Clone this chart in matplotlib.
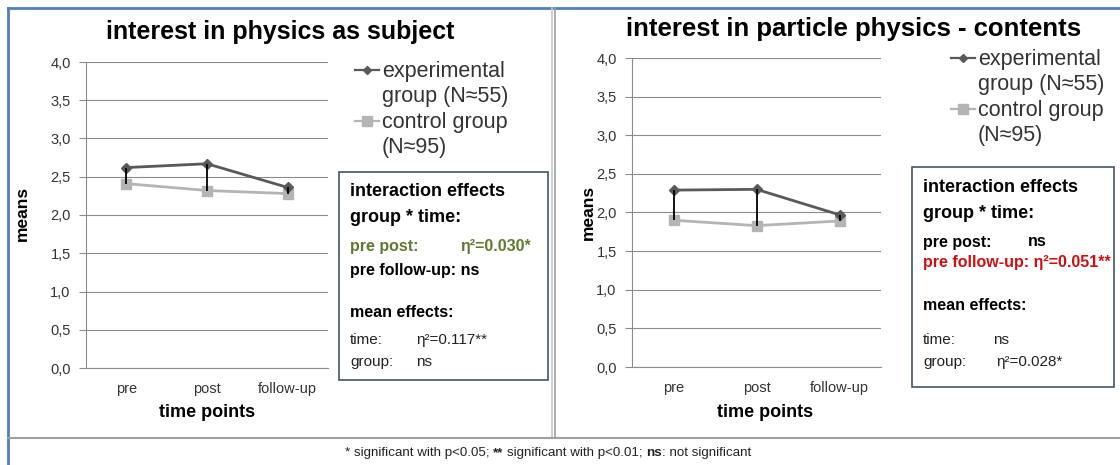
import numpy as np
import matplotlib
matplotlib.use("Agg")
import matplotlib.pyplot as plt
from matplotlib.lines import Line2D
from matplotlib.patches import Rectangle

plt.rcParams['font.family'] = ['Liberation Sans', 'DejaVu Sans']

# data
time_points = ['pre', 'post', 'follow-up']
y_ticks = [0.0, 0.5, 1.0, 1.5, 2.0, 2.5, 3.0, 3.5, 4.0]
y_tick_labels = [f"{v:.1f}".replace('.', ',') for v in y_ticks]

subject_exp = [2.62, 2.67, 2.36]
subject_ctrl = [2.41, 2.32, 2.28]
particle_exp = [2.29, 2.30, 1.97]
particle_ctrl = [1.90, 1.83, 1.89]

titles = ['interest in physics as subject', 'interest in particle physics - contents']
legend_labels = ['experimental\ngroup (N≈55)', 'control group\n(N≈95)']
# (text, bold?)
footnote_parts = [("* significant with p<0.05; ", False), ("**", True),
                  (" significant with p<0.01; ", False), ("ns", True),
                  (": not significant", False)]

W, H = 1120, 465
EXP_C = '#595959'
CTRL_C = '#b4b4b4'
GRID_C = '#8c8c8c'
BOX_C = '#44546a'
TXT_C = '#333333'


def fx(px):
    return px / W


def fy(py):
    return 1 - py / H


fig = plt.figure(figsize=(W / 100, H / 100), dpi=100)


def panel(rect, exp, ctrl):
    ax = fig.add_axes(rect)
    x = np.arange(len(time_points))
    ax.plot(x, exp, color=EXP_C, lw=2, marker='D', ms=5, zorder=3)
    ax.plot(x, ctrl, color=CTRL_C, lw=2, marker='s', ms=7, zorder=2)
    ax.vlines(x, ctrl, exp, color='black', lw=1.3, zorder=4)
    ax.set_xlim(-0.5, len(time_points) - 0.5)
    ax.set_ylim(0, 4)
    ax.set_yticks(y_ticks)
    ax.set_yticklabels(y_tick_labels, fontsize=10.5, color=TXT_C)
    ax.set_xticks(x)
    ax.set_xticklabels(time_points, fontsize=10.5, color=TXT_C)
    ax.tick_params(axis='y', length=5, color=GRID_C, pad=6)
    ax.tick_params(axis='x', length=0, pad=10)
    ax.grid(axis='y', color=GRID_C, lw=0.8)
    ax.set_axisbelow(True)
    for s in ['top', 'right']:
        ax.spines[s].set_visible(False)
    for s in ['left', 'bottom']:
        ax.spines[s].set_color(GRID_C)
        ax.spines[s].set_linewidth(0.8)
    return ax


ax1 = panel([fx(86), fy(368), fx(328) - fx(86), fy(62) - fy(368)], subject_exp, subject_ctrl)
ax2 = panel([fx(632), fy(367), fx(881) - fx(632), fy(58) - fy(367)], particle_exp, particle_ctrl)

# titles and axis labels
fig.text(fx(280), fy(32), titles[0], ha='center', va='center', fontsize=18, fontweight='bold')
fig.text(fx(854), fy(29), titles[1], ha='center', va='center', fontsize=18.5, fontweight='bold')
for xl, yl, xt in [(22, 213, 207), (588, 212, 765)]:
    fig.text(fx(xl), fy(yl), 'means', rotation=90, ha='center', va='center',
             fontsize=12.5, fontweight='bold')
    fig.text(fx(xt), fy(412), 'time points', ha='center', va='center',
             fontsize=13, fontweight='bold')


# legends
def legend(x0, y0):
    for i, (lab, c, m, ms) in enumerate(zip(legend_labels, [EXP_C, CTRL_C], ['D', 's'], [4.5, 7])):
        yy = y0 + i * 51
        fig.add_artist(Line2D([fx(x0), fx(x0 + 12), fx(x0 + 24)], [fy(yy)] * 3, color=c, lw=1.6,
                              marker=m, ms=ms, markevery=[1], transform=fig.transFigure))
        fig.text(fx(x0 + 27), fy(yy - 9), lab, ha='left', va='top', fontsize=15.5,
                 color=TXT_C, linespacing=1.27)


legend(355, 70)
legend(951, 58)

# effect boxes
fig.add_artist(Rectangle((fx(339), fy(380)), fx(548) - fx(339), fy(172) - fy(380),
                         transform=fig.transFigure, fill=False, ec=BOX_C, lw=1.2))
fig.add_artist(Rectangle((fx(912), fy(387)), fx(1114) - fx(912), fy(167) - fy(387),
                         transform=fig.transFigure, fill=False, ec=BOX_C, lw=1.2))

GREEN = '#5f7a30'
RED = '#cc1010'
box_lines = [
    # left box
    (350, 192, 'interaction effects', 'black', 'bold', 13),
    (350, 217, 'group * time:', 'black', 'bold', 13),
    (350, 246, 'pre post:', GREEN, 'bold', 11.5),
    (460, 246, 'η²=0.030*', GREEN, 'bold', 11.5),
    (350, 270, 'pre follow-up: ns', 'black', 'bold', 11.5),
    (350, 312, 'mean effects:', 'black', 'bold', 11.5),
    (350, 340, 'time:', '#222222', 'normal', 11),
    (416, 340, 'η²=0.117**', '#222222', 'normal', 11),
    (350, 362, 'group:', '#222222', 'normal', 11),
    (416, 362, 'ns', '#222222', 'normal', 11),
    # right box
    (923, 187, 'interaction effects', 'black', 'bold', 13),
    (923, 213, 'group * time:', 'black', 'bold', 13),
    (923, 242, 'pre post:', 'black', 'bold', 11.5),
    (1028, 242, 'ns', 'black', 'bold', 11.5),
    (923, 262, 'pre follow-up: η²=0.051**', RED, 'bold', 11.5),
    (923, 305, 'mean effects:', 'black', 'bold', 11.5),
    (923, 340, 'time:', '#222222', 'normal', 11),
    (993, 340, 'ns', '#222222', 'normal', 11),
    (923, 362, 'group:', '#222222', 'normal', 11),
    (996, 362, 'η²=0.028*', '#222222', 'normal', 11),
]
for x, y, s, c, w, fs in box_lines:
    fig.text(fx(x), fy(y), s, ha='left', va='center', color=c, fontweight=w, fontsize=fs)

# footnote: mixed bold/normal pieces placed one after another
renderer = fig.canvas.get_renderer()
FN_SIZE = 9.6


def text_width(s, bold):
    # guard letters so leading/trailing spaces are counted
    wt = 'bold' if bold else 'normal'
    t = fig.text(0, 0, 'x' + s + 'x', fontsize=FN_SIZE, fontweight=wt)
    g = fig.text(0, 0, 'xx', fontsize=FN_SIZE, fontweight=wt)
    w = t.get_window_extent(renderer).width - g.get_window_extent(renderer).width
    t.remove()
    g.remove()
    return w


widths = [text_width(s, b) for s, b in footnote_parts]
x = 548 - sum(widths) / 2
for (s, b), w in zip(footnote_parts, widths):
    core = s.strip(' ')
    lead = text_width(s[:len(s) - len(s.lstrip(' '))], b) if s.startswith(' ') else 0
    fig.text(fx(x + lead), fy(453), core, ha='left', va='center',
             fontsize=FN_SIZE, fontweight='bold' if b else 'normal', color='#222222')
    x += w

# frame lines
fig.add_artist(Line2D([fx(8), fx(8)], [fy(8), fy(465)], color='#4f81bd', lw=2,
                      transform=fig.transFigure))
fig.add_artist(Line2D([fx(8), fx(1120)], [fy(8), fy(8)], color='#4f81bd', lw=2,
                      transform=fig.transFigure))
fig.add_artist(Line2D([fx(552), fx(552)], [fy(8), fy(438)], color='#c8c8c8', lw=1.2,
                      transform=fig.transFigure))
fig.add_artist(Line2D([fx(555), fx(555)], [fy(8), fy(438)], color='#a0a0a0', lw=1.2,
                      transform=fig.transFigure))
fig.add_artist(Line2D([fx(8), fx(1120)], [fy(438), fy(438)], color='#a0a0a0', lw=1.5,
                      transform=fig.transFigure))

fig.savefig('out.png', dpi=100)
